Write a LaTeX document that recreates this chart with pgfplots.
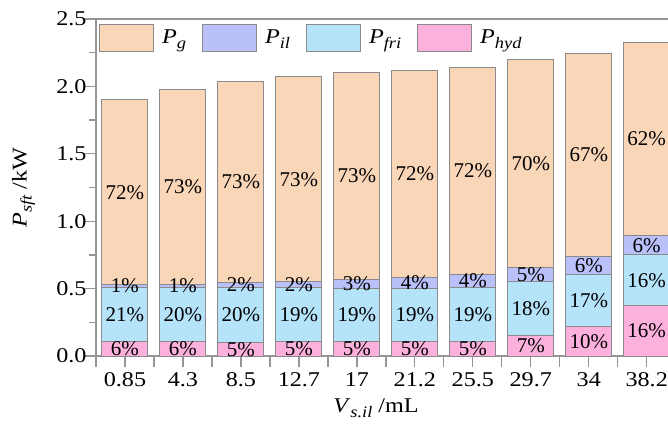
\documentclass[border=0pt]{standalone}
\usepackage{fontspec}
\setmainfont{Liberation Serif}
\newfontfamily\wideserif{Liberation Serif}[FakeStretch=1.15]
\usepackage{pgfplots}
\usepackage{pgfplotstable}
\pgfplotsset{compat=1.18}
\usetikzlibrary{calc}

\definecolor{cg}{HTML}{F9D6B8}
\definecolor{cil}{HTML}{BAC0FA}
\definecolor{cfri}{HTML}{B5E3FA}
\definecolor{chyd}{HTML}{FCB1DC}
\definecolor{axgray}{HTML}{959595}
\definecolor{edge}{HTML}{8A8A8A}

% power split per injected volume (kW) and rounded shares (%)
\pgfplotstableread{
x hyd   fri   il    g     phyd pfri pil pg
0 0.110 0.399 0.019 1.372 6    21   1   72
1 0.110 0.399 0.024 1.442 6    20   1   73
2 0.100 0.409 0.037 1.489 5    20   2   73
3 0.105 0.400 0.045 1.520 5    19   2   73
4 0.104 0.400 0.064 1.533 5    19   3   73
5 0.104 0.400 0.082 1.535 5    19   4   72
6 0.104 0.405 0.093 1.541 5    19   4   72
7 0.150 0.400 0.107 1.540 7    18   5   70
8 0.217 0.385 0.139 1.506 10   17   6   67
9 0.373 0.378 0.141 1.436 16   16   6   62
}\powertable

\newcommand{\sub}[2]{\textit{#1}\raisebox{-5pt}{\fontsize{16}{16}\selectfont\textit{#2}}}

\begin{document}
\begin{tikzpicture}[font=\wideserif\fontsize{21}{25}\selectfont]
\pgfplotsset{
  base/.style={scale only axis, width=579.7pt, height=337pt,
    xmin=-0.5, xmax=9.5, ymin=0, ymax=2.5},
}
\begin{axis}[base, name=ax,
  ybar stacked, bar width=46pt,
  axis line style={axgray, line width=1.3pt},
  tick style={axgray, line width=1.3pt},
  tick align=outside, tick pos=left,
  major tick length=11pt, minor tick length=7pt,
  xtick={0,...,9},
  xticklabels={0.85,4.3,8.5,12.7,17,21.2,25.5,29.7,34,38.2},
  extra x ticks={-0.5,0.5,...,8.5}, extra x tick labels={},
  ytick={0,0.5,...,2.5}, minor ytick={0.25,0.75,...,2.25},
  /pgf/number format/assume math mode=true,
  yticklabel style={/pgf/number format/fixed, /pgf/number format/fixed zerofill,
    /pgf/number format/precision=1, xshift=5pt},
  xticklabel style={yshift=-2pt},
  ylabel={\sub{P}{sft} /kW},
  ylabel style={at={(axis description cs:-0.125,0.5)}, anchor=center},
  xlabel={\sub{V}{s.il} /mL},
  xlabel style={at={(axis description cs:0.483,-0.154)}, anchor=center},
  legend image code/.code={\draw[#1] (0pt,-13.5pt) rectangle (54pt,13.5pt);},
  reverse legend,
  legend style={at={(axis description cs:0.005,0.987)}, anchor=north west,
    draw=none, fill=none, legend columns=-1, inner sep=0pt,
    nodes={inner xsep=8pt, inner ysep=0pt},
    /tikz/every even column/.append style={column sep=8pt}},
  every axis plot/.append style={draw=edge, line width=1pt},
]
\addplot[fill=chyd] table[x=x, y=hyd] {\powertable};
\addplot[fill=cfri] table[x=x, y=fri] {\powertable};
\addplot[fill=cil]  table[x=x, y=il]  {\powertable};
\addplot[fill=cg]   table[x=x, y=g]   {\powertable};
\legend{\sub{P}{hyd}, \sub{P}{fri}, \sub{P}{il}, \sub{P}{g}}
\end{axis}

% share labels, centred in each segment
\begin{axis}[base, hide axis,
  nodes near coords={\pgfmathprintnumber{\pgfplotspointmeta}\%},
  nodes near coords align={center},
  point meta=explicit,
  /pgf/number format/assume math mode=true,
  every node near coord/.append style={anchor=center, inner sep=0pt,
    font=\rmfamily\fontsize{21}{25}\selectfont},
]
\addplot[draw=none, mark=none] table[x=x, y expr=\thisrow{hyd}/2, meta=phyd] {\powertable};
\addplot[draw=none, mark=none] table[x=x, y expr=\thisrow{hyd}+\thisrow{fri}/2, meta=pfri] {\powertable};
\addplot[draw=none, mark=none] table[x=x, y expr=\thisrow{hyd}+\thisrow{fri}+\thisrow{il}/2, meta=pil] {\powertable};
\addplot[draw=none, mark=none] table[x=x, y expr=\thisrow{hyd}+\thisrow{fri}+\thisrow{il}+\thisrow{g}/2, meta=pg] {\powertable};
\end{axis}

\pgfresetboundingbox
\path[use as bounding box] ($(ax.south west)+(-96pt,-77pt)$) rectangle ($(ax.north west)+(572pt,19pt)$);
\end{tikzpicture}
\end{document}
